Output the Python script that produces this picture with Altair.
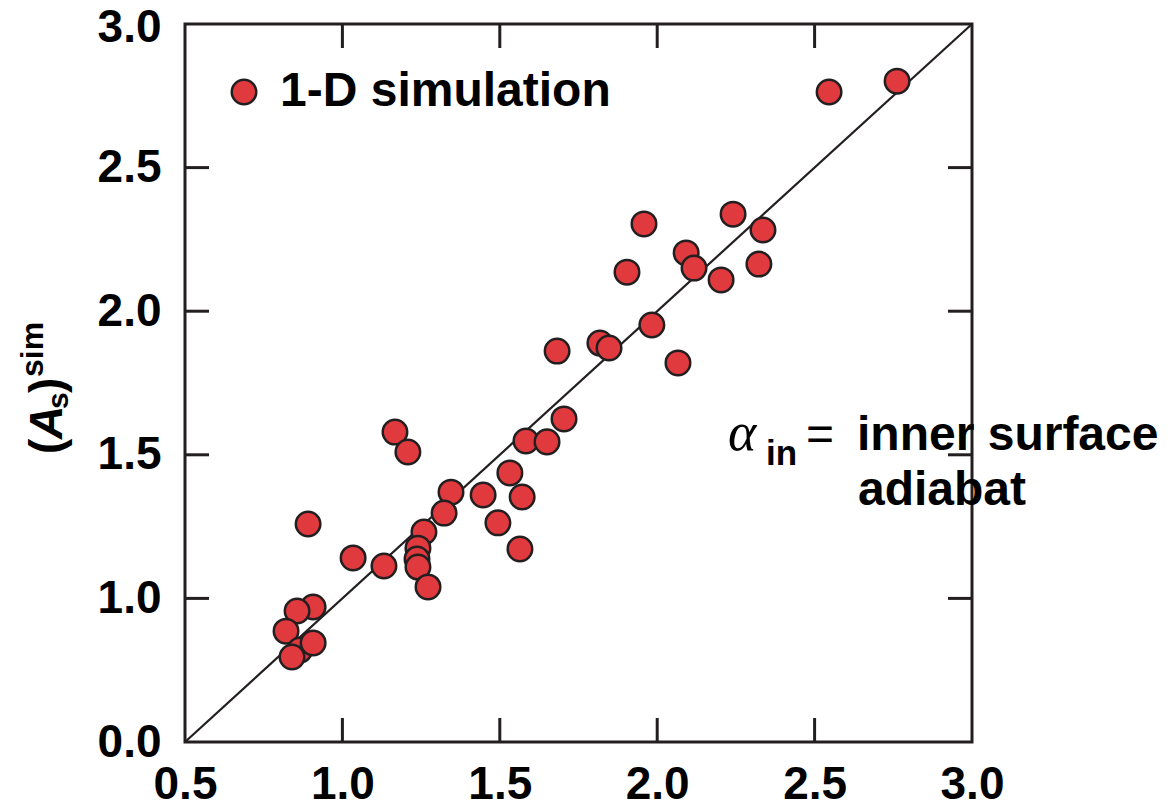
import altair as alt
import pandas as pd

# Measured vs simulated values, 1-D simulation runs
x_vals = [2.546, 2.762, 1.958, 2.241, 2.336, 2.092, 2.117, 2.323, 1.904, 2.203,
          1.983, 1.818, 1.847, 1.682, 2.066, 1.167, 1.208, 1.704, 1.583, 1.650,
          1.532, 1.345, 1.447, 1.571, 1.323, 1.494, 1.259, 1.564, 1.240, 1.237,
          1.240, 1.272, 0.891, 1.034, 1.132, 0.907, 0.856, 0.821, 0.865, 0.907,
          0.840]
y_vals = [2.763, 2.801, 2.304, 2.338, 2.283, 2.203, 2.150, 2.164, 2.136, 2.109,
          1.952, 1.889, 1.872, 1.861, 1.820, 1.579, 1.510, 1.625, 1.548, 1.545,
          1.437, 1.370, 1.360, 1.353, 1.297, 1.263, 1.231, 1.172, 1.175, 1.137,
          1.109, 1.040, 1.259, 1.141, 1.113, 0.970, 0.956, 0.886, 0.820, 0.845,
          0.796]

axis_values = [0.5, 1.0, 1.5, 2.0, 2.5, 3.0]
inner_ticks = [1.0, 1.5, 2.0, 2.5]
diag = [0.5, 3.0]

W, H = 787, 718
INK = "#231f20"
RED = "#e0393e"
FONT = "Liberation Sans"

pts = pd.DataFrame({"x": x_vals, "y": y_vals})
ticks = pd.DataFrame({"v": inner_ticks})
line_df = pd.DataFrame({"x": diag, "y": diag})

xscale = alt.Scale(domain=[0.5, 3.0], nice=False, zero=False)
yscale = alt.Scale(domain=[0.5, 3.0], nice=False, zero=False)

common_axis = dict(values=axis_values, title=None, ticks=False, domain=False,
                   grid=False, labelFont=FONT, labelFontSize=46,
                   labelFontWeight="bold", labelColor="black",
                   labelFlush=False, labelOverlap=False)
xaxis = alt.Axis(format=".1f", labelPadding=20, **common_axis)
yaxis = alt.Axis(labelPadding=24,
                 labelOffset={"condition": {"test": "datum.value == 3", "value": 3},
                              "value": 0},
                 labelExpr="datum.value == 0.5 ? '0.0' : format(datum.value, '.1f')",
                 **common_axis)

diagonal = alt.Chart(line_df).mark_line(color=INK, strokeWidth=2.2).encode(
    x=alt.X("x:Q", scale=xscale, axis=xaxis),
    y=alt.Y("y:Q", scale=yscale, axis=yaxis),
)

points = alt.Chart(pts).mark_point(
    shape="circle", filled=True, fill=RED, stroke=INK, strokeWidth=2.5,
    size=600, opacity=1,
).encode(x=alt.X("x:Q", scale=xscale), y=alt.Y("y:Q", scale=yscale))

TL = 24
rule = dict(color=INK, strokeWidth=3)
tick_bottom = alt.Chart(ticks).mark_rule(**rule).encode(
    x=alt.X("v:Q", scale=xscale), y=alt.value(H), y2=alt.value(H - TL))
tick_top = alt.Chart(ticks).mark_rule(**rule).encode(
    x=alt.X("v:Q", scale=xscale), y=alt.value(0), y2=alt.value(TL))
tick_left = alt.Chart(ticks).mark_rule(**rule).encode(
    y=alt.Y("v:Q", scale=yscale), x=alt.value(0), x2=alt.value(TL))
tick_right = alt.Chart(ticks).mark_rule(**rule).encode(
    y=alt.Y("v:Q", scale=yscale), x=alt.value(W), x2=alt.value(W - TL))


def label(text, x, y, size, weight="bold", style="normal", font=FONT,
          angle=0, align="left", baseline="alphabetic"):
    kw = dict(font=font, fontSize=size, fontWeight=weight, fontStyle=style,
              color="black", align=align, baseline=baseline)
    if angle:
        kw["angle"] = angle
    return alt.Chart(pd.DataFrame({"t": [text]})).mark_text(**kw).encode(
        x=alt.value(x), y=alt.value(y), text="t:N")


# legend
legend_dot = alt.Chart(pd.DataFrame({"t": ["1-D simulation"]})).mark_point(
    shape="circle", filled=True, fill=RED, stroke=INK, strokeWidth=2.5,
    size=600, opacity=1).encode(x=alt.value(59), y=alt.value(68))
legend_txt = label("1-D simulation", 95, 68, 48, baseline="middle")

# y-axis title (A_s)^sim built from rotated pieces
ytitle = [
    label("(", -123, 430, 46, angle=270),
    label("A", -123, 415, 46, style="italic", angle=270),
    label("s", -117, 385, 30, angle=270),
    label(")", -123, 369, 46, angle=270),
    label("sim", -142, 353, 32, angle=270),
]

# annotation on the right
note = [
    label("\u03b1", 543, 426, 54, weight="normal", style="italic",
          font="Liberation Serif"),
    label("in", 581, 441, 35),
    label("=", 621, 426, 48, weight="normal"),
    label("inner surface", 672, 426, 48),
    label("adiabat", 673, 481, 48),
]

chart = alt.layer(
    diagonal, tick_bottom, tick_top, tick_left, tick_right, points,
    legend_dot, legend_txt, *ytitle, *note,
).properties(
    width=W, height=H,
    autosize=alt.AutoSizeParams(type="none"),
    padding={"left": 185, "top": 24, "right": 1173 - 185 - W, "bottom": 808 - 24 - H},
    background="white",
).configure_view(stroke=INK, strokeWidth=3)

chart.save("out.html", embed_options={"renderer": "svg", "actions": False})
